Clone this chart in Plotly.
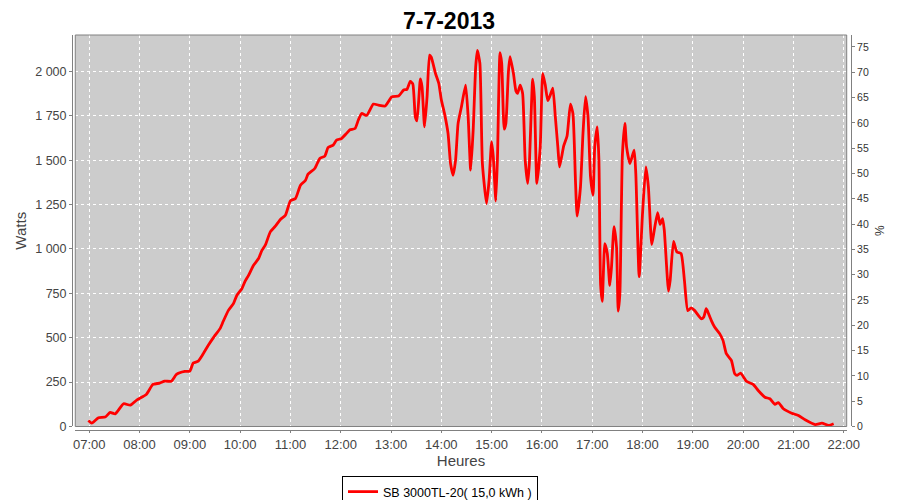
import plotly.graph_objects as go

DAY = "2013-07-07"

times = [
    "06:59", "07:03", "07:11", "07:19", "07:25", "07:31", "07:41", "07:49", "07:57",
    "08:08", "08:16", "08:24", "08:30", "08:38", "08:44", "08:54",
    "09:00", "09:04", "09:10", "09:16", "09:22", "09:30", "09:36", "09:40", "09:46", "09:52", "09:56",
    "10:02", "10:06", "10:10", "10:16", "10:22", "10:26", "10:30", "10:36", "10:42", "10:48", "10:54",
    "11:00", "11:06", "11:12", "11:18", "11:21", "11:29", "11:35", "11:41", "11:45", "11:51", "11:55",
    "12:01", "12:07", "12:11", "12:17", "12:21", "12:25", "12:31", "12:39", "12:45", "12:53",
    "13:01", "13:09", "13:15", "13:19", "13:23", "13:26", "13:29", "13:31", "13:35", "13:37",
    "13:40", "13:43", "13:46", "13:48", "13:53", "13:57",
    "14:00", "14:04", "14:08", "14:11", "14:14", "14:17", "14:20", "14:24", "14:29", "14:32",
    "14:35", "14:38", "14:41", "14:43", "14:46", "14:49", "14:54", "14:57",
    "15:00", "15:02", "15:05", "15:07", "15:10", "15:12", "15:15", "15:17", "15:20", "15:22",
    "15:26", "15:29", "15:31", "15:34", "15:37", "15:40", "15:43", "15:45", "15:49", "15:51",
    "15:54", "15:58",
    "16:01", "16:04", "16:07", "16:10", "16:13", "16:16", "16:19", "16:21", "16:26", "16:30",
    "16:34", "16:37", "16:40", "16:42", "16:46", "16:49", "16:52", "16:55", "16:58",
    "17:01", "17:03", "17:06", "17:08", "17:10", "17:12", "17:15", "17:18", "17:21", "17:23",
    "17:26", "17:29", "17:31", "17:33", "17:36", "17:39", "17:41", "17:45", "17:50", "17:52", "17:56",
    "18:00", "18:04", "18:07", "18:11", "18:14", "18:18", "18:21", "18:24", "18:26", "18:31",
    "18:33", "18:37", "18:41", "18:46", "18:50", "18:54", "18:58",
    "19:02", "19:10", "19:13", "19:16", "19:18", "19:22", "19:26", "19:32", "19:36", "19:40",
    "19:46", "19:50", "19:53", "19:57",
    "20:04", "20:12", "20:18", "20:26", "20:32", "20:38", "20:42", "20:48", "20:58",
    "21:06", "21:14", "21:26", "21:34", "21:42", "21:48",
]

watts = [
    34, 19, 49, 53, 79, 71, 128, 120, 150,
    180, 237, 244, 255, 255, 293, 310,
    312, 357, 368, 410, 457, 513, 551, 594, 654, 692, 738,
    776, 819, 851, 908, 946, 992, 1021, 1096, 1128, 1166, 1190,
    1271, 1284, 1359, 1387, 1421, 1453, 1510, 1523, 1572, 1585, 1613,
    1622, 1651, 1671, 1678, 1726, 1763, 1752, 1816, 1810, 1805,
    1857, 1861, 1895, 1899, 1944, 1929, 1744, 1722, 1958, 1913,
    1688, 1857, 2092, 2080, 1989, 1932,
    1840, 1758, 1651, 1481, 1415, 1500, 1707, 1801, 1923, 1744,
    1444, 1669, 2026, 2118, 2046, 1481, 1256, 1387,
    1603, 1519, 1270, 1519, 2105, 2046, 1675, 1707, 1995, 2083,
    1989, 1890, 1876, 1923, 1876, 1505, 1369, 1481, 1956, 1857,
    1369, 1575,
    1989, 1923, 1835, 1867, 1906, 1744, 1575, 1462, 1580, 1636,
    1815, 1763, 1387, 1185, 1350, 1651, 1858, 1744, 1406,
    1303, 1575, 1688, 1500, 800, 705, 1030, 974, 795, 898,
    1126, 1011, 650, 748, 1530, 1707, 1575, 1481, 1556, 1425, 844,
    1199, 1462, 1350, 1025, 1105, 1205, 1138, 1171, 1105, 762,
    823, 1042, 983, 974, 823, 652, 668,
    654, 607, 616, 664, 645, 598, 560, 523, 485, 410,
    372, 297, 288, 301,
    255, 237, 203, 165, 156, 124, 135, 100, 75,
    62, 38, 11, 19, 6, 15,
]

series_name = "SB 3000TL-20( 15,0 kWh )"
chart_title = "7-7-2013"
x_title = "Heures"
y_title = "Watts"
y2_title = "%"

x = [f"{DAY} {t}" for t in times]

fig = go.Figure()
fig.add_trace(go.Scatter(
    x=x, y=watts, mode="lines", name=series_name,
    line=dict(color="#FF0000", width=2.8, shape="spline", smoothing=0.5),
    showlegend=True,
))
# empty trace so the percent axis is drawn
fig.add_trace(go.Scatter(x=[], y=[], yaxis="y2", showlegend=False, hoverinfo="skip"))

GRAY = "#808080"
FAM = "Liberation Sans, Arial, sans-serif"

# The page adds an 8px body margin, so the figure is 8px smaller than the window.
fig.update_layout(
    width=892, height=492,
    paper_bgcolor="white", plot_bgcolor="#CCCCCC",
    margin=dict(l=64, r=49, t=27, b=70),
    separators=", ",
    title=dict(text=f"<b>{chart_title}</b>", x=441 / 892, xref="container", xanchor="center",
               y=1 - 13 / 492, yref="container", yanchor="middle",
               font=dict(family=FAM, size=23, color="#000000")),
    xaxis=dict(
        type="date", domain=[0.0042, 0.9945], anchor="free", position=0, automargin=False,
        range=[f"{DAY} 06:43:20", f"{DAY} 22:03:36"],
        tick0=f"{DAY} 07:00", dtick=3600000, tickformat="%H:%M",
        showgrid=True, gridcolor="white", griddash="3px,3px", gridwidth=1,
        showline=True, linecolor=GRAY, linewidth=1,
        ticks="outside", ticklen=2, tickcolor=GRAY,
        tickfont=dict(family=FAM, size=13, color="#444444"),
        title=dict(text=x_title, standoff=3,
                   font=dict(family=FAM, size=15, color="#444444")),
        zeroline=False,
    ),
    yaxis=dict(
        domain=[0.0089, 1], anchor="free", position=0, automargin=False,
        range=[0, 2205], tick0=0, dtick=250, separatethousands=True,
        showgrid=True, gridcolor="white", griddash="3px,3px", gridwidth=1,
        showline=True, linecolor=GRAY, linewidth=1,
        ticks="outside", ticklen=3, tickcolor=GRAY,
        tickfont=dict(family=FAM, size=12.5, color="#444444"),
        title=dict(text=y_title, standoff=3,
                   font=dict(family=FAM, size=15, color="#444444")),
        zeroline=False,
    ),
    yaxis2=dict(
        overlaying="y", side="right", anchor="free", position=1, automargin=False,
        range=[0, 77.37], tick0=0, dtick=5,
        showgrid=False, zeroline=False,
        showline=True, linecolor=GRAY, linewidth=1,
        ticks="outside", ticklen=3, tickcolor=GRAY,
        tickfont=dict(family=FAM, size=10.5, color="#333333"),
        title=dict(text=y2_title, standoff=7,
                   font=dict(family=FAM, size=12, color="#333333")),
    ),
    legend=dict(
        orientation="h", xref="container", yref="container",
        x=432 / 892, xanchor="center", y=1 - 468 / 492, yanchor="top",
        bgcolor="white", bordercolor="black", borderwidth=1,
        font=dict(family=FAM, size=12.5, color="#000000"),
        itemwidth=30,
    ),
    shapes=[dict(type="rect", xref="x domain", yref="y domain", x0=0, x1=1, y0=0, y1=1,
                 line=dict(color=GRAY, width=1), layer="above")],
)

fig.write_html("out.html")
